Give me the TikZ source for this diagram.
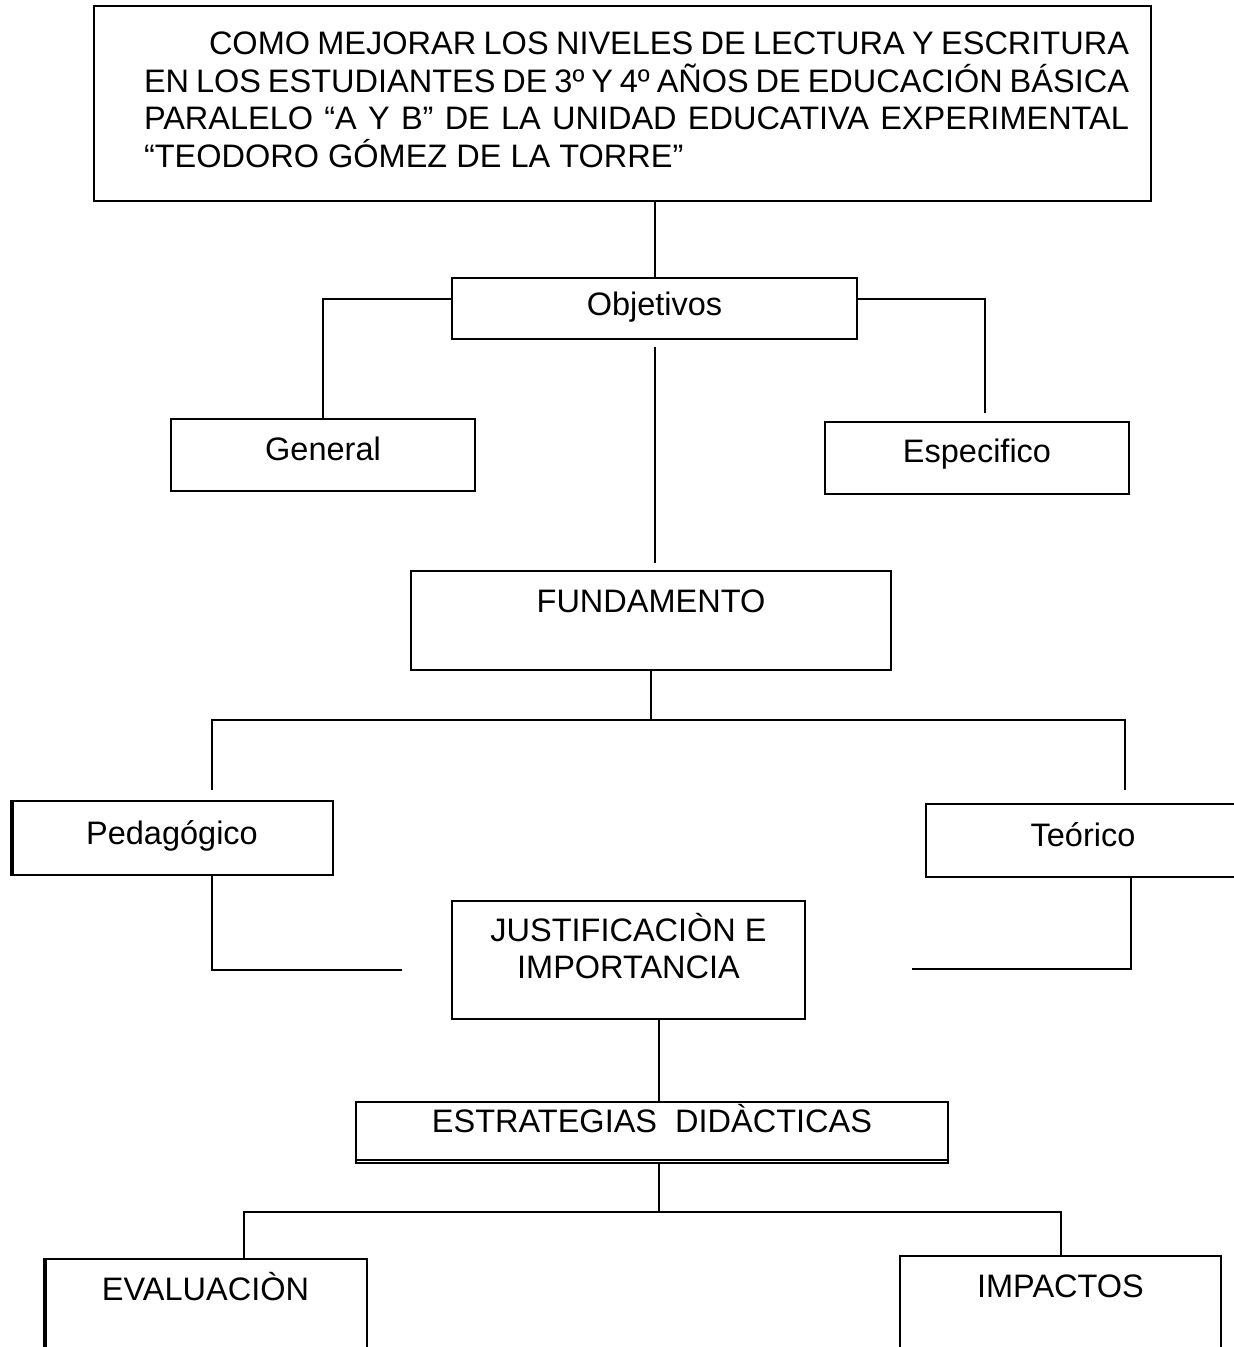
\documentclass[tikz,border=0pt]{standalone}
\usepackage{fontspec}
\setmainfont{Liberation Sans}
\usetikzlibrary{positioning}
\tikzset{box/.style = {draw, line width = 2pt, inner sep = 0pt,
                       font = \fontsize{32.5}{37.5}\selectfont}}
\tikzset{conn/.style = {line width = 2pt}}

\begin{document}
\begin{tikzpicture}[x = 1pt, y = -1pt]
    \useasboundingbox (0, 0) rectangle (1234, 1347);
    \clip (0, 0) rectangle (1234, 1347);

    \node [box, anchor = north west, inner xsep = 22pt, text height = 48.5pt, text depth = 146.5pt] (title) at (93, 5)
      {\hspace*{28pt}\parbox[t]{985pt}{\hspace*{65pt}COMO MEJORAR LOS NIVELES DE LECTURA Y ESCRITURA\linebreak
        EN LOS ESTUDIANTES DE 3º Y 4º AÑOS DE EDUCACIÓN BÁSICA\linebreak
        PARALELO “A Y B” DE LA UNIDAD EDUCATIVA EXPERIMENTAL\linebreak
        “TEODORO GÓMEZ DE LA TORRE”}};

    \node [box, anchor = north, minimum width = 405pt, text height = 37.5pt, text depth = 23.5pt] (obj) at (654.5, 277) {Objetivos};
    \node [box, anchor = north, minimum width = 304pt, text height = 41.5pt, text depth = 30.5pt] (gen) at (323, 418) {General};
    \node [box, anchor = north, minimum width = 304pt, text height = 40.5pt, text depth = 31.5pt] (esp) at (977, 421) {Especifico};

    \node [box, anchor = north, minimum width = 480pt, text height = 41.5pt, text depth = 57.5pt] (fund) at (651, 570) {FUNDAMENTO};

    \node [box, anchor = north, minimum width = 322pt, text height = 43.5pt, text depth = 30.5pt] (ped) at (172, 800) {Pedagógico};
    \node [box, anchor = north, minimum width = 314pt, text height = 42.5pt, text depth = 30.5pt] (teo) at (1083, 803) {Teórico};
    \draw [conn] ([xshift = 3pt]ped.north west) -- ([xshift = 3pt]ped.south west);

    \node [box, anchor = north, minimum width = 353pt, align = center, text height = 77.5pt, text depth = 40.5pt] (just) at (628.5, 900)
      {JUSTIFICACIÒN E\\IMPORTANCIA};

    \node [box, anchor = north, minimum width = 592pt, text height = 30.5pt, text depth = 30.5pt] (est) at (652, 1101) {ESTRATEGIAS\ \ DIDÀCTICAS};
    \draw [conn] ([yshift = 4pt]est.south west) -- ([yshift = 4pt]est.south east);

    \node [box, anchor = north, minimum width = 323pt, text height = 41.5pt, text depth = 80pt] (eva) at (205.5, 1258) {EVALUACIÒN};
    \node [box, anchor = north, minimum width = 321pt, text height = 41.5pt, text depth = 80pt] (imp) at (1060.5, 1255) {IMPACTOS};
    \draw [conn] ([xshift = 3pt]eva.north west) -- ([xshift = 3pt]eva.south west);

    % free ends
    \coordinate (pedtop) at (212, 790);
    \coordinate (teotop) at (1125, 790);
    \coordinate (teobot) at (1131, 0);
    \coordinate (justl) at (402, 970);
    \coordinate (justr) at (912, 969);

    \draw [conn] (obj.north) -- (obj.north |- title.south);
    \draw [conn] ([yshift = 9.5pt]obj.west) -| (gen.north);
    \draw [conn] ([yshift = 9.5pt]obj.east) -| ([xshift = 8pt, yshift = 8pt]esp.north);
    \draw [conn] ([yshift = -7pt]obj.south) -- ([yshift = 7pt]obj.south |- fund.north);

    \draw [conn] (fund.south) -- ++(0, 49) coordinate (fbar);
    \draw [conn] (pedtop) |- (fbar) -| (teotop);

    \draw [conn] (ped.south -| pedtop) |- (justl);
    \draw [conn] (teo.south -| teobot) |- (justr);

    \draw [conn] ([xshift = 7pt]est.north) -- ([xshift = 7pt]est.north |- just.south);
    \draw [conn] ([xshift = 7pt]est.south) -- ++(0, 48) coordinate (ebar);
    \draw [conn] ([xshift = 38.5pt]eva.north) |- (ebar) -| (imp.north);
  \end{tikzpicture}
\end{document}
